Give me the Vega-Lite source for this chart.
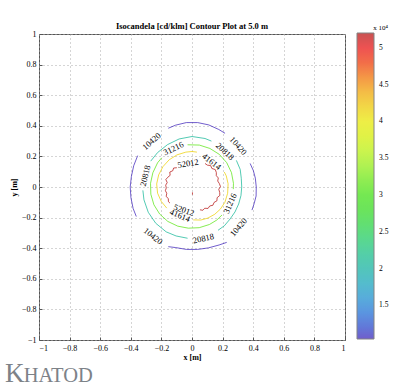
{
  "$schema": "https://vega.github.io/schema/vega-lite/v6.json",
  "width": 306,
  "height": 306,
  "autosize": {"type": "none"},
  "padding": {"left": 39, "top": 34, "right": 60, "bottom": 49},
  "background": "white",
  "title": {"text": "Isocandela [cd/klm] Contour Plot at 5.0 m", "font": "Liberation Serif", "fontSize": 8.5, "fontWeight": "bold", "anchor": "middle", "frame": "group", "offset": 4, "dy": 10, "color": "black"},
  "config": {
    "view": {"stroke": "#555", "strokeWidth": 1},
    "axis": {"labelFont": "Liberation Serif", "labelFontSize": 8, "labelColor": "black", "labelOverlap": false, "titleFont": "Liberation Serif", "titleFontSize": 8, "titleFontWeight": "bold", "titleColor": "black", "grid": true, "gridDash": [1, 3], "gridColor": "#aaa", "domain": false, "tickColor": "#555", "tickSize": -3, "format": "~g"},
    "axisX": {"labelPadding": 7, "titlePadding": 1},
    "axisY": {"labelPadding": 6, "titlePadding": 3}
  },
  "datasets": {
    "contours": [
      {"lv":10420,"s":"b1","i":0,"x":0.216,"y":0.351},{"lv":10420,"s":"b1","i":1,"x":0.175,"y":0.376},{"lv":10420,"s":"b1","i":2,"x":0.109,"y":0.406},{"lv":10420,"s":"b1","i":3,"x":0.037,"y":0.421},{"lv":10420,"s":"b1","i":4,"x":-0.037,"y":0.421},{"lv":10420,"s":"b1","i":5,"x":-0.108,"y":0.404},{"lv":10420,"s":"b1","i":6,"x":-0.155,"y":0.384},
      {"lv":10420,"s":"b2","i":0,"x":-0.355,"y":0.205},{"lv":10420,"s":"b2","i":1,"x":-0.381,"y":0.139},{"lv":10420,"s":"b2","i":2,"x":-0.396,"y":0.07},{"lv":10420,"s":"b2","i":3,"x":-0.404,"y":0.0},{"lv":10420,"s":"b2","i":4,"x":-0.399,"y":-0.07},{"lv":10420,"s":"b2","i":5,"x":-0.385,"y":-0.14},{"lv":10420,"s":"b2","i":6,"x":-0.364,"y":-0.193},
      {"lv":10420,"s":"b3","i":0,"x":-0.155,"y":-0.39},{"lv":10420,"s":"b3","i":1,"x":-0.106,"y":-0.396},{"lv":10420,"s":"b3","i":2,"x":-0.036,"y":-0.408},{"lv":10420,"s":"b3","i":3,"x":0.036,"y":-0.408},{"lv":10420,"s":"b3","i":4,"x":0.107,"y":-0.398},{"lv":10420,"s":"b3","i":5,"x":0.177,"y":-0.379},{"lv":10420,"s":"b3","i":6,"x":0.227,"y":-0.362},
      {"lv":10420,"s":"b4","i":0,"x":0.392,"y":-0.151},{"lv":10420,"s":"b4","i":1,"x":0.406,"y":-0.109},{"lv":10420,"s":"b4","i":2,"x":0.419,"y":-0.059},{"lv":10420,"s":"b4","i":3,"x":0.42,"y":0.0},{"lv":10420,"s":"b4","i":4,"x":0.414,"y":0.058},{"lv":10420,"s":"b4","i":5,"x":0.401,"y":0.107},{"lv":10420,"s":"b4","i":6,"x":0.38,"y":0.154},
      {"lv":20818,"s":"c1","i":0,"x":0.127,"y":0.3},{"lv":20818,"s":"c1","i":1,"x":0.085,"y":0.317},{"lv":20818,"s":"c1","i":2,"x":0.0,"y":0.33},{"lv":20818,"s":"c1","i":3,"x":-0.084,"y":0.314},{"lv":20818,"s":"c1","i":4,"x":-0.16,"y":0.277},{"lv":20818,"s":"c1","i":5,"x":-0.225,"y":0.225},{"lv":20818,"s":"c1","i":6,"x":-0.27,"y":0.169},
      {"lv":20818,"s":"c2","i":0,"x":-0.321,"y":-0.022},{"lv":20818,"s":"c2","i":1,"x":-0.314,"y":-0.084},{"lv":20818,"s":"c2","i":2,"x":-0.286,"y":-0.165},{"lv":20818,"s":"c2","i":3,"x":-0.237,"y":-0.237},{"lv":20818,"s":"c2","i":4,"x":-0.169,"y":-0.293},{"lv":20818,"s":"c2","i":5,"x":-0.104,"y":-0.32},{"lv":20818,"s":"c2","i":6,"x":-0.029,"y":-0.335},
      {"lv":20818,"s":"c3","i":0,"x":0.17,"y":-0.283},{"lv":20818,"s":"c3","i":1,"x":0.212,"y":-0.253},{"lv":20818,"s":"c3","i":2,"x":0.249,"y":-0.209},{"lv":20818,"s":"c3","i":3,"x":0.281,"y":-0.163},{"lv":20818,"s":"c3","i":4,"x":0.305,"y":-0.111},{"lv":20818,"s":"c3","i":5,"x":0.32,"y":-0.056},{"lv":20818,"s":"c3","i":6,"x":0.325,"y":0.0},{"lv":20818,"s":"c3","i":7,"x":0.322,"y":0.057},{"lv":20818,"s":"c3","i":8,"x":0.315,"y":0.115},{"lv":20818,"s":"c3","i":9,"x":0.29,"y":0.174},
      {"lv":31216,"s":"g1","i":0,"x":-0.198,"y":0.191},{"lv":31216,"s":"g1","i":1,"x":-0.225,"y":0.158},{"lv":31216,"s":"g1","i":2,"x":-0.256,"y":0.093},{"lv":31216,"s":"g1","i":3,"x":-0.271,"y":0.024},{"lv":31216,"s":"g1","i":4,"x":-0.269,"y":-0.047},{"lv":31216,"s":"g1","i":5,"x":-0.249,"y":-0.116},{"lv":31216,"s":"g1","i":6,"x":-0.211,"y":-0.177},{"lv":31216,"s":"g1","i":7,"x":-0.158,"y":-0.225},{"lv":31216,"s":"g1","i":8,"x":-0.093,"y":-0.256},{"lv":31216,"s":"g1","i":9,"x":-0.024,"y":-0.269},{"lv":31216,"s":"g1","i":10,"x":0.047,"y":-0.266},{"lv":31216,"s":"g1","i":11,"x":0.114,"y":-0.245},{"lv":31216,"s":"g1","i":12,"x":0.162,"y":-0.216},{"lv":31216,"s":"g1","i":13,"x":0.196,"y":-0.183},
      {"lv":31216,"s":"g2","i":0,"x":0.27,"y":-0.014},{"lv":31216,"s":"g2","i":1,"x":0.271,"y":0.024},{"lv":31216,"s":"g2","i":2,"x":0.258,"y":0.094},{"lv":31216,"s":"g2","i":3,"x":0.227,"y":0.159},{"lv":31216,"s":"g2","i":4,"x":0.179,"y":0.213},{"lv":31216,"s":"g2","i":5,"x":0.117,"y":0.252},{"lv":31216,"s":"g2","i":6,"x":0.048,"y":0.274},{"lv":31216,"s":"g2","i":7,"x":-0.029,"y":0.276},
      {"lv":41614,"s":"y1","i":0,"x":0.032,"y":0.228},{"lv":41614,"s":"y1","i":1,"x":0.0,"y":0.232},{"lv":41614,"s":"y1","i":2,"x":-0.04,"y":0.228},{"lv":41614,"s":"y1","i":3,"x":-0.098,"y":0.21},{"lv":41614,"s":"y1","i":4,"x":-0.149,"y":0.178},{"lv":41614,"s":"y1","i":5,"x":-0.19,"y":0.133},{"lv":41614,"s":"y1","i":6,"x":-0.218,"y":0.079},{"lv":41614,"s":"y1","i":7,"x":-0.231,"y":0.02},{"lv":41614,"s":"y1","i":8,"x":-0.225,"y":-0.04},{"lv":41614,"s":"y1","i":9,"x":-0.201,"y":-0.094},{"lv":41614,"s":"y1","i":10,"x":-0.165,"y":-0.138},
      {"lv":41614,"s":"y2","i":0,"x":0.008,"y":-0.215},{"lv":41614,"s":"y2","i":1,"x":0.058,"y":-0.216},{"lv":41614,"s":"y2","i":2,"x":0.104,"y":-0.203},{"lv":41614,"s":"y2","i":3,"x":0.149,"y":-0.178},{"lv":41614,"s":"y2","i":4,"x":0.185,"y":-0.145},{"lv":41614,"s":"y2","i":5,"x":0.215,"y":-0.1},{"lv":41614,"s":"y2","i":6,"x":0.233,"y":-0.041},{"lv":41614,"s":"y2","i":7,"x":0.236,"y":0.021},{"lv":41614,"s":"y2","i":8,"x":0.224,"y":0.073},{"lv":41614,"s":"y2","i":9,"x":0.211,"y":0.098},
      {"lv":52012,"s":"r1","i":0,"x":-0.099,"y":0.126},{"lv":52012,"s":"r1","i":1,"x":-0.12,"y":0.124},{"lv":52012,"s":"r1","i":2,"x":-0.126,"y":0.106},{"lv":52012,"s":"r1","i":3,"x":-0.145,"y":0.098},{"lv":52012,"s":"r1","i":4,"x":-0.143,"y":0.076},{"lv":52012,"s":"r1","i":5,"x":-0.158,"y":0.064},{"lv":52012,"s":"r1","i":6,"x":-0.171,"y":0.049},{"lv":52012,"s":"r1","i":7,"x":-0.162,"y":0.029},{"lv":52012,"s":"r1","i":8,"x":-0.172,"y":0.012},{"lv":52012,"s":"r1","i":9,"x":-0.168,"y":-0.006},{"lv":52012,"s":"r1","i":10,"x":-0.174,"y":-0.024},{"lv":52012,"s":"r1","i":11,"x":-0.165,"y":-0.041},{"lv":52012,"s":"r1","i":12,"x":-0.169,"y":-0.062},{"lv":52012,"s":"r1","i":13,"x":-0.155,"y":-0.075},{"lv":52012,"s":"r1","i":14,"x":-0.154,"y":-0.096},{"lv":52012,"s":"r1","i":15,"x":-0.144,"y":-0.105},
      {"lv":52012,"s":"r2","i":0,"x":0.052,"y":-0.149},{"lv":52012,"s":"r2","i":1,"x":0.071,"y":-0.152},{"lv":52012,"s":"r2","i":2,"x":0.083,"y":-0.139},{"lv":52012,"s":"r2","i":3,"x":0.105,"y":-0.14},{"lv":52012,"s":"r2","i":4,"x":0.116,"y":-0.124},{"lv":52012,"s":"r2","i":5,"x":0.137,"y":-0.119},{"lv":52012,"s":"r2","i":6,"x":0.144,"y":-0.101},{"lv":52012,"s":"r2","i":7,"x":0.163,"y":-0.09},{"lv":52012,"s":"r2","i":8,"x":0.164,"y":-0.07},{"lv":52012,"s":"r2","i":9,"x":0.182,"y":-0.055},{"lv":52012,"s":"r2","i":10,"x":0.181,"y":-0.035},{"lv":52012,"s":"r2","i":11,"x":0.175,"y":-0.015},{"lv":52012,"s":"r2","i":12,"x":0.186,"y":0.003},{"lv":52012,"s":"r2","i":13,"x":0.179,"y":0.022},{"lv":52012,"s":"r2","i":14,"x":0.168,"y":0.039},{"lv":52012,"s":"r2","i":15,"x":0.172,"y":0.059},{"lv":52012,"s":"r2","i":16,"x":0.159,"y":0.074},{"lv":52012,"s":"r2","i":17,"x":0.159,"y":0.095},{"lv":52012,"s":"r2","i":18,"x":0.152,"y":0.114},{"lv":52012,"s":"r2","i":19,"x":0.13,"y":0.121},{"lv":52012,"s":"r2","i":20,"x":0.122,"y":0.14},{"lv":52012,"s":"r2","i":21,"x":0.1,"y":0.143},{"lv":52012,"s":"r2","i":22,"x":0.085,"y":0.154},
      {"lv":52012,"s":"r3","i":0,"x":0.003,"y":-0.035},{"lv":52012,"s":"r3","i":1,"x":0.003,"y":-0.05}
    ],
    "labels": [
      {"t":"10420","x":-0.265,"y":0.3},
      {"t":"10420","x":0.303,"y":0.27},
      {"t":"10420","x":-0.253,"y":-0.32},
      {"t":"10420","x":0.303,"y":-0.262},
      {"t":"20818","x":0.216,"y":0.234},
      {"t":"20818","x":-0.307,"y":0.074},
      {"t":"20818","x":0.074,"y":-0.335},
      {"t":"31216","x":-0.122,"y":0.253},
      {"t":"31216","x":0.248,"y":-0.107},
      {"t":"41614","x":0.129,"y":0.167},
      {"t":"41614","x":-0.078,"y":-0.185},
      {"t":"52012","x":-0.026,"y":0.155},
      {"t":"52012","x":-0.052,"y":-0.15}
    ],
    "logo": [
      {"t": "K"},
      {"t": "HATOD"}
    ]
  },
  "layer": [
    {
      "data": {"name": "contours"},
      "mark": {"type": "line", "strokeWidth": 1, "opacity": 0.72, "interpolate": "linear"},
      "encoding": {
        "x": {"field": "x", "type": "quantitative", "scale": {"domain": [-1, 1], "nice": false, "zero": false},
              "axis": {"values": [-1, -0.8, -0.6, -0.4, -0.2, 0, 0.2, 0.4, 0.6, 0.8, 1], "title": "x [m]", "labelOverlap": false, "format": "~g"}},
        "y": {"field": "y", "type": "quantitative", "scale": {"domain": [-1, 1], "nice": false, "zero": false},
              "axis": {"values": [-1, -0.8, -0.6, -0.4, -0.2, 0, 0.2, 0.4, 0.6, 0.8, 1], "title": "y [m]", "labelOverlap": false, "format": "~g"}},
        "color": {"field": "lv", "type": "quantitative",
          "scale": {"domain": [10420, 12500, 15000, 17500, 20000, 22500, 25000, 27500, 30000, 32500, 35000, 37500, 40000, 42500, 45000, 47500, 50000, 52012],
                    "range": ["#3a20b8", "#2050d0", "#1a80d8", "#14a0c0", "#10b0a0", "#14c080", "#20d050", "#30d820", "#40e010", "#70e810", "#a8f010", "#d0f000", "#e8e800", "#f0c000", "#f09000", "#f04000", "#e81010", "#b41010"],
                    "interpolate": "rgb"},
          "legend": {"type": "gradient", "orient": "none", "legendX": 318, "legendY": -10, "direction": "vertical",
                     "gradientLength": 306, "gradientThickness": 17, "gradientStrokeColor": "#555", "gradientStrokeWidth": 1,
                     "values": [15000, 20000, 25000, 30000, 35000, 40000, 45000, 50000],
                     "labelExpr": "format(datum.value / 10000, '~g')",
                     "labelFont": "Liberation Serif", "labelFontSize": 7.5, "labelColor": "black", "labelOffset": 5,
                     "title": "x 10⁴", "titleFont": "Liberation Serif", "titleFontSize": 7, "titleFontWeight": "normal", "titleColor": "black", "titleAnchor": "end", "titlePadding": 2,
                     "encode": {"gradient": {"update": {"opacity": {"value": 1}}}}}},
        "detail": {"field": "s", "type": "nominal"},
        "order": {"field": "i", "type": "quantitative"}
      }
    },
    {
      "data": {"name": "labels"},
      "transform": [
        {"calculate": "(90 - atan2(datum.y, datum.x) * 180 / PI) >= 90 ? (90 - atan2(datum.y, datum.x) * 180 / PI) - 180 : (90 - atan2(datum.y, datum.x) * 180 / PI)", "as": "rot"}
      ],
      "mark": {"type": "text", "font": "Liberation Serif", "fontSize": 8.5, "color": "black", "align": "center", "baseline": "middle"},
      "encoding": {
        "x": {"field": "x", "type": "quantitative",
              "axis": {"values": [-1, -0.8, -0.6, -0.4, -0.2, 0, 0.2, 0.4, 0.6, 0.8, 1], "title": "x [m]", "labelOverlap": false, "format": "~g"}},
        "y": {"field": "y", "type": "quantitative",
              "axis": {"values": [-1, -0.8, -0.6, -0.4, -0.2, 0, 0.2, 0.4, 0.6, 0.8, 1], "title": "y [m]", "labelOverlap": false, "format": "~g"}},
        "text": {"field": "t", "type": "nominal"},
        "angle": {"field": "rot", "type": "quantitative", "scale": null}
      }
    },
    {
      "data": {"name": "logo"},
      "transform": [{"filter": "datum.t == 'K'"}],
      "mark": {"type": "text", "font": "Liberation Serif", "fontSize": 27, "fill": "#7d8288", "align": "left", "baseline": "alphabetic"},
      "encoding": {
        "x": {"datum": -1.222, "type": "quantitative",
              "axis": {"values": [-1, -0.8, -0.6, -0.4, -0.2, 0, 0.2, 0.4, 0.6, 0.8, 1], "title": "x [m]", "labelOverlap": false, "format": "~g"}},
        "y": {"datum": -1.275, "type": "quantitative",
              "axis": {"values": [-1, -0.8, -0.6, -0.4, -0.2, 0, 0.2, 0.4, 0.6, 0.8, 1], "title": "y [m]", "labelOverlap": false, "format": "~g"}},
        "text": {"field": "t", "type": "nominal"}
      }
    },
    {
      "data": {"name": "logo"},
      "transform": [{"filter": "datum.t == 'HATOD'"}],
      "mark": {"type": "text", "font": "Liberation Serif", "fontSize": 20.5, "fill": "#7d8288", "align": "left", "baseline": "alphabetic"},
      "encoding": {
        "x": {"datum": -1.1, "type": "quantitative",
              "axis": {"values": [-1, -0.8, -0.6, -0.4, -0.2, 0, 0.2, 0.4, 0.6, 0.8, 1], "title": "x [m]", "labelOverlap": false, "format": "~g"}},
        "y": {"datum": -1.275, "type": "quantitative",
              "axis": {"values": [-1, -0.8, -0.6, -0.4, -0.2, 0, 0.2, 0.4, 0.6, 0.8, 1], "title": "y [m]", "labelOverlap": false, "format": "~g"}},
        "text": {"field": "t", "type": "nominal"}
      }
    }
  ]
}
